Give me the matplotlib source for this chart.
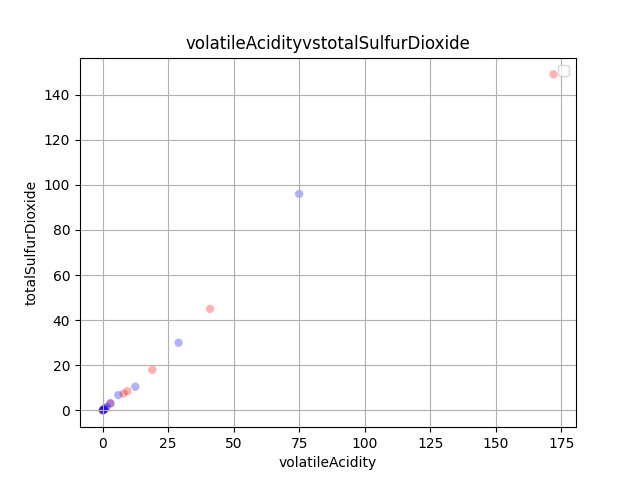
import matplotlib
matplotlib.use('Agg')
import matplotlib.pyplot as plt

red_x = [172, 41, 19, 9.5, 8, 3, 0.5, 0.2, 0]
red_y = [149, 45, 18, 8.5, 7.5, 3, 0.5, 0.2, 0]
blue_x = [75, 29, 12.5, 6, 3, 1.5, 1, 0.5, 0.2, 0, 0.8]
blue_y = [96, 30, 10.5, 6.8, 3.2, 1.5, 1, 0.5, 0.2, 0, 0.3]

fig, ax = plt.subplots(figsize=(6.4, 4.8), dpi=100)
ax.scatter(red_x, red_y, color='red', alpha=0.3, edgecolors='none')
ax.scatter(blue_x, blue_y, color='blue', alpha=0.3, edgecolors='none')
ax.set_title('volatileAcidityvstotalSulfurDioxide')
ax.set_xlabel('volatileAcidity')
ax.set_ylabel('totalSulfurDioxide')
ax.grid(True)
ax.legend(handles=[], loc='upper right')
fig.savefig('out.png')
